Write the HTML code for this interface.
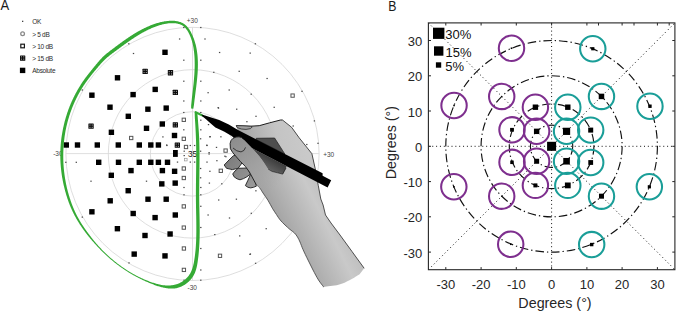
<!DOCTYPE html>
<html><head><meta charset="utf-8"><style>
html,body{margin:0;padding:0;background:#fff;}
svg{display:block;font-family:"Liberation Sans",sans-serif;}
</style></head><body>
<svg width="676" height="312" viewBox="0 0 676 312">
<rect width="676" height="312" fill="#fff"/>
<text transform="translate(0.5,10.4) scale(0.88,1)" font-size="14.8" fill="#1a1a1a">A</text>
<g font-size="6.5" fill="#2a2a2a" letter-spacing="-0.3">
<text x="32.3" y="24.0">OK</text>
<text x="32.3" y="36.5">&gt; 5 dB</text>
<text x="32.3" y="49.0">&gt; 10 dB</text>
<text x="32.3" y="61.0">&gt; 15 dB</text>
<text x="32.3" y="73.4">Absolute</text>
</g>
<rect x="22.0" y="20.7" width="1.3" height="1.3" fill="#444"/>
<circle cx="22.6" cy="33.7" r="1.85" fill="none" stroke="#8a8a8a" stroke-width="1.3"/>
<g fill="none" stroke="#d6d6d6" stroke-width="0.8">
<circle cx="192.5" cy="153.9" r="42.2"/>
<circle cx="192.5" cy="153.9" r="84.2"/>
<circle cx="192.5" cy="153.9" r="126.6"/>
<line x1="192.5" y1="27.3" x2="192.5" y2="280.5"/>
<line x1="65.9" y1="153.6" x2="319.1" y2="153.6"/>
</g>
<g font-size="6.5" fill="#444">
<text x="192.3" y="23.1" text-anchor="middle">+30</text>
<text x="192.3" y="289.6" text-anchor="middle">-30</text>
<text x="62.6" y="155.9" text-anchor="end">-30</text>
<text x="323.2" y="156.6">+30</text>
</g>
<text x="188" y="156.8" font-size="8.3" fill="#111">35</text>
<g fill="#474747">
<rect x="200.13" y="26.90" width="1.35" height="1.2"/>
<rect x="183.13" y="26.90" width="1.35" height="1.2"/>
<rect x="178.93" y="38.40" width="1.35" height="1.2"/>
<rect x="204.33" y="38.40" width="1.35" height="1.2"/>
<rect x="218.93" y="51.90" width="1.35" height="1.2"/>
<rect x="183.13" y="59.60" width="1.35" height="1.2"/>
<rect x="200.13" y="59.60" width="1.35" height="1.2"/>
<rect x="213.13" y="71.70" width="1.35" height="1.2"/>
<rect x="254.73" y="43.20" width="1.35" height="1.2"/>
<rect x="249.53" y="52.50" width="1.35" height="1.2"/>
<rect x="238.53" y="70.70" width="1.35" height="1.2"/>
<rect x="128.13" y="43.20" width="1.35" height="1.2"/>
<rect x="132.83" y="52.90" width="1.35" height="1.2"/>
<rect x="81.63" y="89.40" width="1.35" height="1.2"/>
<rect x="183.13" y="80.60" width="1.35" height="1.2"/>
<rect x="200.13" y="80.60" width="1.35" height="1.2"/>
<rect x="207.43" y="92.10" width="1.35" height="1.2"/>
<rect x="183.13" y="100.40" width="1.35" height="1.2"/>
<rect x="200.13" y="100.40" width="1.35" height="1.2"/>
<rect x="217.83" y="107.50" width="1.35" height="1.2"/>
<rect x="183.13" y="111.90" width="1.35" height="1.2"/>
<rect x="200.13" y="111.90" width="1.35" height="1.2"/>
<rect x="200.13" y="119.60" width="1.35" height="1.2"/>
<rect x="183.13" y="129.20" width="1.35" height="1.2"/>
<rect x="200.13" y="129.20" width="1.35" height="1.2"/>
<rect x="207.83" y="124.00" width="1.35" height="1.2"/>
<rect x="228.53" y="89.40" width="1.35" height="1.2"/>
<rect x="266.43" y="77.90" width="1.35" height="1.2"/>
<rect x="250.53" y="93.60" width="1.35" height="1.2"/>
<rect x="236.03" y="108.60" width="1.35" height="1.2"/>
<rect x="273.53" y="106.70" width="1.35" height="1.2"/>
<rect x="255.33" y="115.70" width="1.35" height="1.2"/>
<rect x="246.23" y="121.10" width="1.35" height="1.2"/>
<rect x="301.33" y="90.70" width="1.35" height="1.2"/>
<rect x="313.73" y="120.30" width="1.35" height="1.2"/>
<rect x="292.53" y="125.40" width="1.35" height="1.2"/>
<rect x="317.33" y="142.70" width="1.35" height="1.2"/>
<rect x="306.13" y="143.90" width="1.35" height="1.2"/>
<rect x="166.23" y="144.90" width="1.35" height="1.2"/>
<rect x="189.63" y="144.90" width="1.35" height="1.2"/>
<rect x="193.93" y="144.90" width="1.35" height="1.2"/>
<rect x="176.83" y="161.50" width="1.35" height="1.2"/>
<rect x="189.63" y="161.50" width="1.35" height="1.2"/>
<rect x="193.93" y="161.50" width="1.35" height="1.2"/>
<rect x="183.53" y="150.60" width="1.35" height="1.2"/>
<rect x="183.53" y="155.00" width="1.35" height="1.2"/>
<rect x="199.93" y="138.20" width="1.35" height="1.2"/>
<rect x="199.93" y="150.60" width="1.35" height="1.2"/>
<rect x="199.93" y="167.90" width="1.35" height="1.2"/>
<rect x="199.93" y="177.20" width="1.35" height="1.2"/>
<rect x="206.33" y="144.90" width="1.35" height="1.2"/>
<rect x="206.33" y="161.50" width="1.35" height="1.2"/>
<rect x="209.53" y="136.10" width="1.35" height="1.2"/>
<rect x="208.43" y="153.40" width="1.35" height="1.2"/>
<rect x="209.23" y="170.70" width="1.35" height="1.2"/>
<rect x="162.23" y="136.30" width="1.35" height="1.2"/>
<rect x="166.03" y="144.40" width="1.35" height="1.2"/>
<rect x="145.83" y="180.60" width="1.35" height="1.2"/>
<rect x="65.13" y="161.70" width="1.35" height="1.2"/>
<rect x="75.63" y="161.70" width="1.35" height="1.2"/>
<rect x="90.33" y="180.60" width="1.35" height="1.2"/>
<rect x="183.33" y="186.90" width="1.35" height="1.2"/>
<rect x="183.33" y="194.20" width="1.35" height="1.2"/>
<rect x="200.13" y="186.90" width="1.35" height="1.2"/>
<rect x="200.13" y="194.20" width="1.35" height="1.2"/>
<rect x="200.13" y="205.70" width="1.35" height="1.2"/>
<rect x="200.13" y="226.90" width="1.35" height="1.2"/>
<rect x="208.73" y="182.50" width="1.35" height="1.2"/>
<rect x="218.03" y="199.40" width="1.35" height="1.2"/>
<rect x="207.43" y="214.40" width="1.35" height="1.2"/>
<rect x="214.13" y="234.00" width="1.35" height="1.2"/>
<rect x="221.13" y="183.20" width="1.35" height="1.2"/>
<rect x="235.73" y="198.60" width="1.35" height="1.2"/>
<rect x="255.23" y="190.20" width="1.35" height="1.2"/>
<rect x="228.83" y="217.40" width="1.35" height="1.2"/>
<rect x="250.63" y="212.70" width="1.35" height="1.2"/>
<rect x="239.03" y="235.30" width="1.35" height="1.2"/>
<rect x="265.53" y="228.10" width="1.35" height="1.2"/>
<rect x="249.33" y="253.80" width="1.35" height="1.2"/>
<rect x="81.63" y="216.50" width="1.35" height="1.2"/>
<rect x="128.33" y="262.30" width="1.35" height="1.2"/>
<rect x="200.13" y="247.90" width="1.35" height="1.2"/>
<rect x="200.13" y="269.40" width="1.35" height="1.2"/>
<rect x="183.43" y="279.60" width="1.35" height="1.2"/>
<rect x="200.13" y="279.60" width="1.35" height="1.2"/>
<rect x="249.73" y="253.40" width="1.35" height="1.2"/>
<rect x="254.93" y="262.70" width="1.35" height="1.2"/>
<rect x="217.53" y="107.00" width="1.35" height="1.2"/>
<rect x="209.13" y="136.20" width="1.35" height="1.2"/>
<rect x="220.23" y="136.20" width="1.35" height="1.2"/>
<rect x="206.13" y="144.60" width="1.35" height="1.2"/>
<rect x="215.83" y="146.80" width="1.35" height="1.2"/>
<rect x="208.43" y="152.00" width="1.35" height="1.2"/>
<rect x="224.23" y="155.60" width="1.35" height="1.2"/>
<rect x="216.23" y="160.10" width="1.35" height="1.2"/>
<rect x="225.23" y="156.10" width="1.35" height="1.2"/>
</g>
<rect x="173" y="150" width="4.8" height="6.9" fill="#000"/>
<g fill="#000">
<rect x="162.3" y="49.6" width="5.4" height="5.4"/>
<rect x="114.8" y="75.1" width="5.4" height="5.4"/>
<rect x="152.5" y="86.7" width="5.4" height="5.4"/>
<rect x="130.4" y="91.9" width="5.4" height="5.4"/>
<rect x="89.2" y="92.5" width="5.4" height="5.4"/>
<rect x="107.3" y="104.5" width="5.4" height="5.4"/>
<rect x="145.2" y="106.5" width="5.4" height="5.4"/>
<rect x="163.5" y="105.4" width="5.4" height="5.4"/>
<rect x="125.6" y="113.6" width="5.4" height="5.4"/>
<rect x="159.6" y="121.3" width="5.4" height="5.4"/>
<rect x="143.8" y="125.6" width="5.4" height="5.4"/>
<rect x="108.7" y="129.6" width="5.4" height="5.4"/>
<rect x="171.8" y="132.8" width="5.4" height="5.4"/>
<rect x="63.6" y="142.3" width="5.4" height="5.4"/>
<rect x="74.8" y="142.3" width="5.4" height="5.4"/>
<rect x="94.6" y="142.3" width="5.4" height="5.4"/>
<rect x="115.6" y="142.3" width="5.4" height="5.4"/>
<rect x="136.6" y="142.3" width="5.4" height="5.4"/>
<rect x="148.1" y="142.3" width="5.4" height="5.4"/>
<rect x="155.7" y="142.3" width="5.4" height="5.4"/>
<rect x="96.0" y="159.6" width="5.4" height="5.4"/>
<rect x="115.8" y="159.6" width="5.4" height="5.4"/>
<rect x="136.6" y="159.6" width="5.4" height="5.4"/>
<rect x="148.1" y="159.6" width="5.4" height="5.4"/>
<rect x="155.7" y="159.6" width="5.4" height="5.4"/>
<rect x="164.8" y="159.6" width="5.4" height="5.4"/>
<rect x="128.3" y="167.9" width="5.4" height="5.4"/>
<rect x="159.7" y="167.9" width="5.4" height="5.4"/>
<rect x="171.9" y="168.6" width="5.4" height="5.4"/>
<rect x="108.6" y="172.6" width="5.4" height="5.4"/>
<rect x="159.1" y="181.2" width="5.4" height="5.4"/>
<rect x="172.5" y="180.4" width="5.4" height="5.4"/>
<rect x="125.5" y="188.0" width="5.4" height="5.4"/>
<rect x="163.5" y="196.5" width="5.4" height="5.4"/>
<rect x="107.5" y="198.1" width="5.4" height="5.4"/>
<rect x="145.3" y="196.5" width="5.4" height="5.4"/>
<rect x="89.2" y="209.1" width="5.4" height="5.4"/>
<rect x="130.5" y="210.8" width="5.4" height="5.4"/>
<rect x="172.6" y="212.3" width="5.4" height="5.4"/>
<rect x="152.4" y="214.9" width="5.4" height="5.4"/>
<rect x="114.7" y="226.0" width="5.4" height="5.4"/>
<rect x="142.3" y="232.8" width="5.4" height="5.4"/>
<rect x="167.4" y="231.3" width="5.4" height="5.4"/>
<rect x="131.5" y="251.4" width="5.4" height="5.4"/>
<rect x="162.3" y="253.2" width="5.4" height="5.4"/>
</g>
<rect x="142.5" y="68.8" width="5.3" height="5.3" fill="#0a0a0a" rx="0.5"/>
<rect x="143.50" y="69.70" width="1.1" height="1.1" fill="#9a9a9a"/>
<rect x="145.80" y="69.70" width="1.1" height="1.1" fill="#9a9a9a"/>
<rect x="143.50" y="72.00" width="1.1" height="1.1" fill="#9a9a9a"/>
<rect x="145.80" y="72.00" width="1.1" height="1.1" fill="#9a9a9a"/>
<rect x="167.8" y="70.1" width="5.3" height="5.3" fill="#0a0a0a" rx="0.5"/>
<rect x="168.70" y="71.10" width="1.1" height="1.1" fill="#9a9a9a"/>
<rect x="171.00" y="71.10" width="1.1" height="1.1" fill="#9a9a9a"/>
<rect x="168.70" y="73.40" width="1.1" height="1.1" fill="#9a9a9a"/>
<rect x="171.00" y="73.40" width="1.1" height="1.1" fill="#9a9a9a"/>
<rect x="88.4" y="123.5" width="5.3" height="5.3" fill="#0a0a0a" rx="0.5"/>
<rect x="89.40" y="124.50" width="1.1" height="1.1" fill="#9a9a9a"/>
<rect x="91.70" y="124.50" width="1.1" height="1.1" fill="#9a9a9a"/>
<rect x="89.40" y="126.80" width="1.1" height="1.1" fill="#9a9a9a"/>
<rect x="91.70" y="126.80" width="1.1" height="1.1" fill="#9a9a9a"/>
<rect x="172.7" y="89.8" width="5.3" height="5.3" fill="#0a0a0a" rx="0.5"/>
<rect x="173.60" y="90.80" width="1.1" height="1.1" fill="#9a9a9a"/>
<rect x="175.90" y="90.80" width="1.1" height="1.1" fill="#9a9a9a"/>
<rect x="173.60" y="93.10" width="1.1" height="1.1" fill="#9a9a9a"/>
<rect x="175.90" y="93.10" width="1.1" height="1.1" fill="#9a9a9a"/>
<rect x="172.7" y="122.2" width="5.3" height="5.3" fill="#0a0a0a" rx="0.5"/>
<rect x="173.60" y="123.20" width="1.1" height="1.1" fill="#9a9a9a"/>
<rect x="175.90" y="123.20" width="1.1" height="1.1" fill="#9a9a9a"/>
<rect x="173.60" y="125.50" width="1.1" height="1.1" fill="#9a9a9a"/>
<rect x="175.90" y="125.50" width="1.1" height="1.1" fill="#9a9a9a"/>
<rect x="174.7" y="142.5" width="5.3" height="5.3" fill="#0a0a0a" rx="0.5"/>
<rect x="175.60" y="143.50" width="1.1" height="1.1" fill="#9a9a9a"/>
<rect x="177.90" y="143.50" width="1.1" height="1.1" fill="#9a9a9a"/>
<rect x="175.60" y="145.80" width="1.1" height="1.1" fill="#9a9a9a"/>
<rect x="177.90" y="145.80" width="1.1" height="1.1" fill="#9a9a9a"/>
<g fill="none" stroke="#555" stroke-width="1">
<rect x="129.55" y="136.35" width="3.3" height="3.3"/>
<rect x="182.15" y="118.15" width="3.3" height="3.3"/>
<rect x="182.15" y="137.15" width="3.3" height="3.3"/>
<rect x="184.35" y="145.35" width="3.3" height="3.3"/>
<rect x="223.95" y="148.95" width="3.3" height="3.3"/>
<rect x="182.15" y="166.85" width="3.3" height="3.3"/>
<rect x="182.15" y="176.35" width="3.3" height="3.3"/>
<rect x="219.15" y="169.15" width="3.3" height="3.3"/>
<rect x="182.15" y="204.75" width="3.3" height="3.3"/>
<rect x="182.15" y="225.95" width="3.3" height="3.3"/>
<rect x="182.25" y="246.85" width="3.3" height="3.3"/>
<rect x="182.25" y="268.25" width="3.3" height="3.3"/>
<rect x="218.35" y="254.15" width="3.3" height="3.3"/>
<rect x="290.95" y="93.95" width="3.3" height="3.3"/>
</g>
<rect x="184.5" y="158.3" width="2.6" height="2.6" fill="none" stroke="#999" stroke-width="0.7"/>
<rect x="20.80" y="44.20" width="3.6" height="3.6" fill="none" stroke="#1a1a1a" stroke-width="1.2"/>
<rect x="20.0" y="55.4" width="5.3" height="5.3" fill="#0a0a0a" rx="0.5"/>
<rect x="20.90" y="56.30" width="1.1" height="1.1" fill="#9a9a9a"/>
<rect x="23.20" y="56.30" width="1.1" height="1.1" fill="#9a9a9a"/>
<rect x="20.90" y="58.60" width="1.1" height="1.1" fill="#9a9a9a"/>
<rect x="23.20" y="58.60" width="1.1" height="1.1" fill="#9a9a9a"/>
<rect x="19.9" y="67.7" width="5.4" height="5.4" fill="#000"/>
<path d="M193.32,108.70 L193.44,107.99 L193.57,107.28 L193.69,106.56 L193.82,105.85 L193.92,105.14 L194.00,104.42 L194.09,103.70 L194.17,102.98 L194.26,102.26 L194.35,101.53 L194.44,100.81 L194.53,100.09 L194.62,99.36 L194.71,98.64 L194.81,97.91 L194.90,97.18 L195.00,96.46 L195.09,95.73 L195.18,95.00 L195.28,94.27 L195.37,93.54 L195.46,92.81 L195.56,92.08 L195.65,91.34 L195.74,90.61 L195.83,89.88 L195.93,89.14 L196.02,88.41 L196.11,87.67 L196.20,86.94 L196.29,86.20 L196.37,85.47 L196.46,84.73 L196.55,83.99 L196.64,83.26 L196.73,82.52 L196.81,81.78 L196.90,81.04 L196.97,80.30 L197.05,79.56 L197.12,78.83 L197.19,78.09 L197.26,77.34 L197.32,76.60 L197.38,75.86 L197.44,75.12 L197.50,74.38 L197.55,73.64 L197.61,72.90 L197.65,72.16 L197.70,71.42 L197.74,70.67 L197.77,69.93 L197.80,69.19 L197.83,68.45 L197.85,67.70 L197.87,66.96 L197.88,66.22 L197.89,65.48 L197.90,64.74 L197.90,63.99 L197.89,63.25 L197.89,62.51 L197.87,61.77 L197.85,61.03 L197.82,60.29 L197.78,59.55 L197.74,58.80 L197.70,58.06 L197.65,57.32 L197.59,56.58 L197.53,55.85 L197.46,55.11 L197.39,54.37 L197.30,53.63 L197.21,52.89 L197.12,52.16 L197.02,51.42 L196.91,50.69 L196.79,49.95 L196.66,49.22 L196.52,48.49 L196.37,47.75 L196.22,47.02 L196.06,46.29 L195.89,45.57 L195.71,44.84 L195.52,44.11 L195.32,43.39 L195.11,42.67 L194.90,41.95 L194.68,41.23 L194.45,40.51 L194.21,39.79 L193.96,39.08 L193.70,38.36 L193.43,37.65 L193.15,36.94 L192.85,36.24 L192.55,35.53 L192.23,34.83 L191.90,34.14 L191.56,33.44 L191.21,32.75 L190.85,32.06 L190.47,31.37 L190.07,30.70 L189.66,30.03 L189.24,29.37 L188.79,28.73 L188.33,28.10 L187.85,27.48 L187.36,26.89 L186.84,26.31 L186.30,25.76 L185.74,25.23 L185.16,24.73 L184.55,24.26 L183.92,23.82 L183.27,23.41 L182.60,23.04 L181.92,22.70 L181.22,22.40 L180.51,22.12 L179.79,21.88 L179.06,21.66 L178.32,21.47 L177.57,21.30 L176.81,21.16 L176.05,21.04 L175.29,20.95 L174.52,20.87 L173.75,20.81 L172.98,20.78 L172.21,20.76 L171.44,20.75 L170.67,20.76 L169.91,20.79 L169.14,20.83 L168.38,20.89 L167.62,20.96 L166.86,21.04 L166.10,21.13 L165.35,21.24 L164.59,21.36 L163.84,21.49 L163.09,21.63 L162.34,21.78 L161.60,21.94 L160.86,22.11 L160.12,22.29 L159.38,22.47 L158.64,22.67 L157.91,22.88 L157.19,23.09 L156.46,23.31 L155.74,23.54 L155.02,23.77 L154.31,24.02 L153.60,24.27 L152.90,24.53 L152.20,24.79 L151.50,25.06 L150.81,25.33 L150.11,25.61 L149.42,25.90 L148.74,26.19 L148.06,26.49 L147.38,26.79 L146.70,27.10 L146.02,27.41 L145.35,27.72 L144.68,28.04 L144.02,28.37 L143.35,28.70 L142.69,29.03 L142.03,29.37 L141.37,29.71 L140.72,30.06 L140.07,30.41 L139.42,30.76 L138.77,31.12 L138.13,31.48 L137.48,31.85 L136.84,32.22 L136.20,32.59 L135.57,32.96 L134.93,33.34 L134.30,33.73 L133.67,34.11 L133.04,34.50 L132.41,34.89 L131.79,35.29 L131.17,35.69 L130.55,36.09 L129.93,36.50 L129.31,36.91 L128.69,37.32 L128.08,37.73 L127.47,38.15 L126.86,38.56 L126.25,38.98 L125.64,39.40 L125.03,39.83 L124.43,40.25 L123.82,40.68 L123.22,41.11 L122.61,41.53 L122.01,41.97 L121.41,42.40 L120.82,42.84 L120.22,43.28 L119.63,43.72 L119.03,44.16 L118.44,44.60 L117.84,45.04 L117.25,45.48 L116.66,45.93 L116.07,46.37 L115.47,46.81 L114.88,47.26 L114.29,47.70 L113.70,48.15 L113.11,48.59 L112.52,49.03 L111.93,49.48 L111.34,49.92 L110.74,50.37 L110.15,50.82 L109.56,51.27 L108.97,51.73 L108.38,52.18 L107.79,52.65 L107.21,53.11 L106.63,53.59 L106.05,54.06 L105.48,54.55 L104.91,55.04 L104.35,55.53 L103.79,56.04 L103.24,56.55 L102.70,57.07 L102.16,57.60 L101.64,58.14 L101.12,58.68 L100.62,59.23 L100.11,59.78 L99.62,60.33 L99.13,60.89 L98.65,61.45 L98.17,62.01 L97.69,62.58 L97.22,63.14 L96.75,63.71 L96.28,64.28 L95.82,64.85 L95.35,65.42 L94.88,65.98 L94.42,66.55 L93.95,67.12 L93.48,67.69 L93.02,68.27 L92.55,68.84 L92.08,69.42 L91.62,69.99 L91.15,70.57 L90.68,71.15 L90.21,71.72 L89.75,72.30 L89.28,72.89 L88.82,73.47 L88.36,74.05 L87.90,74.64 L87.44,75.23 L86.98,75.82 L86.53,76.41 L86.08,77.01 L85.63,77.61 L85.18,78.21 L84.74,78.81 L84.30,79.42 L83.87,80.03 L83.45,80.64 L83.02,81.26 L82.60,81.87 L82.19,82.49 L81.78,83.12 L81.37,83.74 L80.96,84.37 L80.56,85.00 L80.17,85.63 L79.78,86.26 L79.39,86.90 L79.00,87.53 L78.62,88.17 L78.24,88.81 L77.86,89.45 L77.49,90.09 L77.12,90.74 L76.76,91.39 L76.40,92.04 L76.04,92.69 L75.69,93.34 L75.34,94.00 L75.00,94.66 L74.66,95.32 L74.32,95.98 L73.99,96.64 L73.66,97.31 L73.34,97.97 L73.02,98.64 L72.70,99.31 L72.39,99.99 L72.08,100.66 L71.77,101.33 L71.47,102.01 L71.17,102.69 L70.88,103.37 L70.59,104.05 L70.31,104.74 L70.03,105.42 L69.75,106.11 L69.48,106.80 L69.21,107.49 L68.94,108.18 L68.68,108.87 L68.42,109.57 L68.17,110.27 L67.92,110.96 L67.68,111.66 L67.43,112.36 L67.20,113.06 L66.96,113.77 L66.73,114.47 L66.51,115.18 L66.29,115.88 L66.07,116.59 L65.86,117.30 L65.65,118.01 L65.44,118.72 L65.24,119.44 L65.04,120.15 L64.85,120.87 L64.66,121.58 L64.48,122.30 L64.29,123.02 L64.12,123.74 L63.94,124.46 L63.77,125.18 L63.61,125.90 L63.45,126.63 L63.29,127.35 L63.14,128.08 L62.99,128.80 L62.84,129.53 L62.70,130.26 L62.56,130.98 L62.42,131.71 L62.29,132.44 L62.17,133.18 L62.04,133.91 L61.92,134.64 L61.81,135.37 L61.70,136.11 L61.59,136.84 L61.48,137.58 L61.39,138.31 L61.29,139.05 L61.20,139.79 L61.11,140.52 L61.03,141.26 L60.95,142.00 L60.87,142.74 L60.81,143.48 L60.74,144.22 L60.68,144.96 L60.63,145.70 L60.58,146.45 L60.53,147.19 L60.48,147.93 L60.44,148.68 L60.41,149.42 L60.38,150.16 L60.35,150.91 L60.33,151.65 L60.31,152.40 L60.29,153.14 L60.29,153.88 L60.28,154.63 L60.29,155.38 L60.29,156.12 L60.30,156.87 L60.32,157.61 L60.33,158.36 L60.35,159.10 L60.38,159.85 L60.41,160.59 L60.44,161.34 L60.48,162.08 L60.52,162.83 L60.57,163.57 L60.62,164.31 L60.68,165.06 L60.73,165.80 L60.80,166.54 L60.86,167.29 L60.93,168.03 L61.01,168.77 L61.08,169.51 L61.17,170.25 L61.25,170.99 L61.34,171.73 L61.44,172.47 L61.53,173.21 L61.64,173.95 L61.74,174.69 L61.85,175.42 L61.96,176.16 L62.08,176.90 L62.20,177.63 L62.33,178.36 L62.46,179.10 L62.59,179.83 L62.73,180.56 L62.88,181.29 L63.02,182.02 L63.17,182.75 L63.33,183.47 L63.48,184.20 L63.65,184.92 L63.81,185.65 L63.98,186.37 L64.15,187.09 L64.33,187.81 L64.51,188.53 L64.69,189.25 L64.88,189.97 L65.07,190.68 L65.26,191.40 L65.46,192.11 L65.66,192.83 L65.86,193.54 L66.07,194.25 L66.28,194.96 L66.50,195.66 L66.71,196.37 L66.94,197.07 L67.16,197.77 L67.39,198.47 L67.63,199.17 L67.87,199.87 L68.11,200.56 L68.36,201.26 L68.61,201.95 L68.87,202.64 L69.13,203.33 L69.39,204.02 L69.66,204.70 L69.93,205.39 L70.20,206.07 L70.48,206.75 L70.77,207.43 L71.06,208.11 L71.35,208.78 L71.65,209.45 L71.96,210.12 L72.27,210.79 L72.58,211.46 L72.90,212.12 L73.22,212.79 L73.55,213.45 L73.89,214.11 L74.22,214.76 L74.57,215.42 L74.91,216.07 L75.27,216.72 L75.62,217.37 L75.98,218.02 L76.35,218.67 L76.72,219.31 L77.09,219.95 L77.47,220.59 L77.85,221.23 L78.24,221.86 L78.63,222.49 L79.03,223.12 L79.42,223.75 L79.83,224.38 L80.23,225.00 L80.65,225.62 L81.06,226.24 L81.48,226.86 L81.90,227.47 L82.32,228.08 L82.75,228.69 L83.18,229.30 L83.62,229.91 L84.05,230.51 L84.49,231.11 L84.94,231.71 L85.38,232.31 L85.83,232.90 L86.28,233.50 L86.74,234.09 L87.19,234.67 L87.65,235.26 L88.11,235.84 L88.58,236.42 L89.05,236.99 L89.52,237.57 L89.99,238.14 L90.47,238.71 L90.95,239.27 L91.43,239.84 L91.91,240.40 L92.39,240.96 L92.88,241.52 L93.37,242.07 L93.86,242.62 L94.35,243.17 L94.85,243.72 L95.35,244.27 L95.84,244.81 L96.34,245.36 L96.84,245.90 L97.34,246.44 L97.84,246.98 L98.34,247.52 L98.85,248.05 L99.36,248.59 L99.87,249.11 L100.38,249.64 L100.90,250.17 L101.42,250.69 L101.94,251.21 L102.46,251.72 L102.98,252.24 L103.51,252.75 L104.04,253.26 L104.57,253.76 L105.10,254.27 L105.64,254.77 L106.18,255.27 L106.72,255.76 L107.26,256.26 L107.80,256.75 L108.35,257.23 L108.90,257.72 L109.45,258.20 L110.01,258.68 L110.56,259.16 L111.12,259.63 L111.68,260.10 L112.24,260.57 L112.80,261.04 L113.37,261.50 L113.94,261.97 L114.51,262.42 L115.08,262.88 L115.65,263.33 L116.23,263.78 L116.81,264.23 L117.39,264.67 L117.98,265.12 L118.56,265.55 L119.15,265.99 L119.74,266.42 L120.34,266.85 L120.93,267.28 L121.53,267.70 L122.13,268.12 L122.73,268.54 L123.34,268.95 L123.95,269.36 L124.55,269.77 L125.17,270.17 L125.78,270.57 L126.40,270.97 L127.02,271.37 L127.64,271.76 L128.26,272.14 L128.89,272.53 L129.52,272.91 L130.15,273.29 L130.78,273.67 L131.41,274.04 L132.05,274.42 L132.69,274.78 L133.33,275.15 L133.97,275.51 L134.62,275.87 L135.27,276.22 L135.92,276.57 L136.57,276.92 L137.23,277.26 L137.89,277.60 L138.55,277.94 L139.21,278.27 L139.87,278.60 L140.54,278.94 L141.21,279.26 L141.88,279.59 L142.55,279.91 L143.22,280.23 L143.90,280.54 L144.58,280.86 L145.26,281.16 L145.95,281.47 L146.63,281.77 L147.32,282.06 L148.02,282.36 L148.71,282.65 L149.41,282.93 L150.11,283.21 L150.81,283.50 L151.51,283.79 L152.21,284.07 L152.92,284.35 L153.63,284.62 L154.34,284.89 L155.05,285.15 L155.76,285.41 L156.48,285.65 L157.20,285.89 L157.92,286.13 L158.65,286.35 L159.37,286.56 L160.10,286.77 L160.83,286.96 L161.55,287.16 L162.28,287.35 L163.01,287.53 L163.75,287.70 L164.48,287.85 L165.21,287.99 L165.95,288.12 L166.69,288.23 L167.43,288.33 L168.17,288.41 L168.92,288.48 L169.66,288.54 L170.41,288.57 L171.16,288.59 L171.90,288.59 L172.65,288.58 L173.40,288.54 L174.16,288.48 L174.91,288.41 L175.66,288.29 L176.40,288.14 L177.15,287.97 L177.89,287.78 L178.63,287.56 L179.36,287.32 L180.10,287.05 L180.83,286.76 L181.55,286.45 L182.27,286.10 L182.98,285.73 L183.69,285.34 L184.38,284.92 L185.07,284.49 L185.74,284.03 L186.41,283.55 L187.06,283.05 L187.69,282.54 L188.31,282.00 L188.92,281.44 L189.50,280.87 L190.07,280.28 L190.62,279.67 L191.15,279.05 L191.66,278.41 L192.14,277.76 L192.60,277.10 L193.03,276.42 L193.44,275.74 L193.83,275.04 L194.19,274.34 L194.53,273.64 L194.84,272.92 L195.14,272.21 L195.42,271.48 L195.68,270.75 L195.92,270.02 L196.14,269.28 L196.35,268.54 L196.54,267.80 L196.72,267.06 L196.89,266.31 L197.04,265.56 L197.18,264.82 L197.32,264.07 L197.45,263.32 L197.56,262.57 L197.68,261.83 L197.78,261.08 L197.88,260.34 L197.98,259.60 L198.08,258.86 L198.17,258.11 L198.26,257.37 L198.35,256.63 L198.43,255.89 L198.51,255.15 L198.59,254.41 L198.66,253.67 L198.73,252.93 L198.80,252.19 L198.86,251.45 L198.92,250.71 L198.98,249.97 L199.03,249.23 L199.08,248.49 L199.13,247.75 L199.18,247.01 L199.23,246.27 L199.27,245.53 L199.32,244.79 L199.36,244.05 L199.39,243.31 L199.43,242.57 L199.46,241.84 L199.49,241.10 L199.52,240.36 L199.54,239.62 L199.57,238.88 L199.59,238.14 L199.61,237.40 L199.62,236.67 L199.64,235.93 L199.65,235.19 L199.66,234.45 L199.67,233.71 L199.68,232.98 L199.69,232.24 L199.69,231.50 L199.69,230.76 L199.69,230.02 L199.70,229.29 L199.69,228.55 L199.69,227.81 L199.69,227.08 L199.68,226.34 L199.68,225.60 L199.67,224.87 L199.66,224.13 L199.65,223.39 L199.64,222.66 L199.63,221.92 L199.62,221.18 L199.61,220.45 L199.60,219.71 L199.58,218.97 L199.57,218.24 L199.56,217.50 L199.54,216.77 L199.53,216.03 L199.51,215.30 L199.50,214.56 L199.48,213.82 L199.46,213.09 L199.45,212.35 L199.43,211.62 L199.42,210.88 L199.40,210.15 L199.39,209.42 L199.37,208.68 L199.36,207.95 L199.34,207.21 L199.33,206.48 L199.31,205.74 L199.30,205.01 L199.29,204.28 L199.27,203.54 L199.26,202.81 L199.25,202.08 L199.24,201.34 L199.23,200.61 L199.23,199.88 L199.22,199.14 L199.21,198.41 L199.21,197.68 L199.21,196.94 L199.20,196.21 L199.20,195.48 L199.20,194.74 L199.20,194.01 L199.20,193.28 L199.20,192.54 L199.20,191.81 L199.21,191.08 L199.21,190.34 L199.21,189.61 L199.22,188.87 L199.22,188.14 L199.23,187.41 L199.23,186.67 L199.24,185.94 L199.25,185.20 L199.25,184.47 L199.26,183.73 L199.27,183.00 L199.28,182.27 L199.28,181.53 L199.29,180.80 L199.30,180.06 L199.31,179.33 L199.32,178.59 L199.33,177.86 L199.34,177.12 L199.35,176.39 L199.36,175.65 L199.37,174.92 L199.38,174.18 L199.39,173.45 L199.39,172.71 L199.40,171.98 L199.41,171.24 L199.42,170.51 L199.43,169.77 L199.44,169.04 L199.45,168.30 L199.45,167.57 L199.46,166.83 L199.47,166.09 L199.48,165.36 L199.48,164.62 L199.49,163.89 L199.49,163.15 L199.50,162.42 L199.50,161.68 L199.51,160.94 L199.51,160.21 L199.51,159.47 L199.51,158.74 L199.51,158.00 L199.51,157.26 L199.51,156.53 L199.51,155.79 L199.51,155.05 L199.50,154.32 L199.50,153.58 L199.49,152.84 L199.49,152.11 L199.48,151.37 L199.47,150.64 L199.46,149.90 L199.45,149.16 L199.44,148.43 L199.43,147.69 L199.41,146.95 L199.40,146.21 L199.38,145.48 L199.36,144.74 L199.35,144.00 L199.33,143.27 L199.31,142.53 L199.28,141.79 L199.26,141.06 L199.24,140.32 L199.21,139.58 L199.18,138.85 L199.15,138.11 L199.12,137.37 L199.09,136.63 L199.06,135.90 L199.02,135.16 L198.98,134.42 L198.93,133.69 L198.89,132.95 L198.84,132.21 L198.79,131.48 L198.74,130.74 L198.69,130.00 L198.64,129.27 L198.59,128.53 L198.53,127.80 L198.48,127.06 L198.42,126.33 L198.37,125.60 L198.31,124.86 L198.26,124.13 L198.20,123.39 L198.15,122.66 L198.09,121.93 L198.04,121.19 L197.98,120.46 L197.92,119.73 L197.87,119.00 L197.81,118.26 L197.76,117.53 L197.70,116.80 L197.63,116.07 L197.55,115.34 L197.48,114.61 L197.41,113.88 L197.33,113.15 L197.26,112.42 L194.67,112.59 L194.69,113.32 L194.71,114.06 L194.74,114.79 L194.76,115.53 L194.79,116.26 L194.81,117.00 L194.86,117.73 L194.90,118.47 L194.95,119.20 L195.00,119.93 L195.04,120.67 L195.09,121.40 L195.14,122.13 L195.18,122.87 L195.23,123.60 L195.27,124.33 L195.32,125.06 L195.36,125.80 L195.40,126.53 L195.44,127.26 L195.48,127.99 L195.52,128.73 L195.56,129.46 L195.60,130.19 L195.63,130.92 L195.67,131.65 L195.70,132.39 L195.73,133.12 L195.76,133.85 L195.79,134.58 L195.82,135.31 L195.85,136.04 L195.89,136.77 L195.91,137.50 L195.94,138.23 L195.97,138.96 L195.99,139.69 L196.02,140.42 L196.04,141.16 L196.06,141.89 L196.08,142.62 L196.09,143.35 L196.11,144.08 L196.13,144.81 L196.14,145.54 L196.15,146.28 L196.16,147.01 L196.18,147.74 L196.18,148.47 L196.19,149.20 L196.20,149.94 L196.21,150.67 L196.21,151.40 L196.22,152.13 L196.22,152.86 L196.22,153.60 L196.22,154.33 L196.23,155.06 L196.23,155.80 L196.22,156.53 L196.22,157.26 L196.22,157.99 L196.22,158.73 L196.21,159.46 L196.21,160.19 L196.21,160.93 L196.20,161.66 L196.20,162.39 L196.19,163.13 L196.19,163.86 L196.18,164.60 L196.18,165.33 L196.17,166.06 L196.16,166.80 L196.15,167.53 L196.15,168.27 L196.14,169.00 L196.13,169.73 L196.12,170.47 L196.11,171.20 L196.10,171.94 L196.09,172.67 L196.09,173.41 L196.08,174.14 L196.07,174.88 L196.06,175.61 L196.05,176.35 L196.04,177.08 L196.03,177.82 L196.02,178.55 L196.01,179.29 L196.00,180.02 L195.99,180.76 L195.99,181.49 L195.98,182.23 L195.97,182.97 L195.96,183.70 L195.95,184.44 L195.95,185.17 L195.94,185.91 L195.93,186.64 L195.93,187.38 L195.92,188.12 L195.92,188.85 L195.91,189.59 L195.91,190.33 L195.91,191.06 L195.90,191.80 L195.90,192.54 L195.90,193.27 L195.90,194.01 L195.90,194.75 L195.90,195.48 L195.90,196.22 L195.91,196.96 L195.91,197.69 L195.91,198.43 L195.92,199.17 L195.93,199.91 L195.93,200.64 L195.94,201.38 L195.95,202.12 L195.96,202.85 L195.97,203.59 L195.98,204.33 L195.99,205.06 L196.00,205.80 L196.01,206.54 L196.03,207.27 L196.04,208.01 L196.05,208.75 L196.07,209.48 L196.08,210.22 L196.09,210.95 L196.11,211.69 L196.12,212.42 L196.14,213.16 L196.15,213.89 L196.17,214.63 L196.18,215.36 L196.19,216.10 L196.21,216.83 L196.22,217.56 L196.23,218.30 L196.25,219.03 L196.26,219.77 L196.27,220.50 L196.28,221.23 L196.29,221.96 L196.30,222.70 L196.31,223.43 L196.31,224.16 L196.32,224.90 L196.32,225.63 L196.33,226.36 L196.33,227.09 L196.33,227.82 L196.33,228.55 L196.33,229.29 L196.33,230.02 L196.33,230.75 L196.32,231.48 L196.32,232.21 L196.31,232.94 L196.30,233.67 L196.29,234.40 L196.28,235.13 L196.26,235.86 L196.25,236.59 L196.23,237.32 L196.21,238.05 L196.19,238.78 L196.16,239.51 L196.14,240.23 L196.11,240.96 L196.08,241.69 L196.04,242.42 L196.01,243.15 L195.97,243.87 L195.93,244.60 L195.89,245.33 L195.84,246.05 L195.79,246.78 L195.74,247.51 L195.68,248.23 L195.62,248.96 L195.56,249.68 L195.49,250.41 L195.42,251.13 L195.35,251.86 L195.27,252.58 L195.19,253.31 L195.11,254.03 L195.02,254.76 L194.93,255.48 L194.84,256.20 L194.74,256.92 L194.64,257.65 L194.54,258.37 L194.43,259.09 L194.32,259.81 L194.20,260.53 L194.08,261.25 L193.95,261.96 L193.81,262.67 L193.67,263.38 L193.52,264.08 L193.37,264.77 L193.20,265.46 L193.03,266.15 L192.84,266.82 L192.65,267.49 L192.44,268.15 L192.22,268.81 L192.00,269.46 L191.76,270.10 L191.50,270.73 L191.24,271.35 L190.95,271.96 L190.66,272.56 L190.34,273.15 L190.01,273.74 L189.66,274.31 L189.29,274.87 L188.90,275.42 L188.49,275.97 L188.06,276.50 L187.61,277.03 L187.15,277.54 L186.66,278.05 L186.16,278.54 L185.64,279.02 L185.11,279.48 L184.57,279.94 L184.01,280.37 L183.45,280.79 L182.87,281.20 L182.29,281.58 L181.70,281.95 L181.10,282.29 L180.50,282.62 L179.89,282.92 L179.29,283.21 L178.68,283.47 L178.06,283.72 L177.44,283.94 L176.82,284.15 L176.19,284.34 L175.56,284.50 L174.92,284.65 L174.28,284.80 L173.64,284.95 L172.99,285.07 L172.34,285.18 L171.68,285.28 L171.02,285.36 L170.35,285.42 L169.68,285.46 L169.00,285.49 L168.31,285.51 L167.63,285.51 L166.94,285.50 L166.24,285.47 L165.54,285.43 L164.84,285.37 L164.14,285.30 L163.43,285.22 L162.72,285.13 L162.01,285.02 L161.29,284.91 L160.58,284.77 L159.87,284.62 L159.15,284.46 L158.44,284.28 L157.73,284.10 L157.01,283.92 L156.30,283.72 L155.58,283.52 L154.87,283.30 L154.16,283.09 L153.44,282.86 L152.73,282.63 L152.02,282.40 L151.31,282.16 L150.61,281.91 L149.91,281.65 L149.21,281.39 L148.52,281.12 L147.82,280.85 L147.13,280.57 L146.45,280.29 L145.76,280.01 L145.08,279.72 L144.40,279.43 L143.72,279.14 L143.04,278.84 L142.37,278.54 L141.69,278.24 L141.02,277.93 L140.36,277.61 L139.69,277.29 L139.03,276.97 L138.38,276.64 L137.72,276.31 L137.07,275.97 L136.42,275.63 L135.77,275.29 L135.12,274.94 L134.48,274.59 L133.84,274.24 L133.20,273.89 L132.56,273.53 L131.92,273.16 L131.29,272.80 L130.66,272.43 L130.03,272.06 L129.41,271.68 L128.79,271.29 L128.17,270.91 L127.55,270.52 L126.94,270.13 L126.33,269.73 L125.72,269.34 L125.11,268.93 L124.50,268.53 L123.90,268.12 L123.30,267.71 L122.70,267.30 L122.10,266.88 L121.51,266.46 L120.92,266.04 L120.33,265.61 L119.74,265.18 L119.16,264.75 L118.58,264.32 L118.00,263.88 L117.42,263.44 L116.84,262.99 L116.27,262.55 L115.70,262.10 L115.13,261.64 L114.57,261.19 L114.00,260.73 L113.44,260.27 L112.88,259.80 L112.32,259.34 L111.77,258.87 L111.22,258.39 L110.67,257.91 L110.12,257.43 L109.58,256.95 L109.04,256.46 L108.50,255.97 L107.96,255.48 L107.43,254.99 L106.90,254.49 L106.37,253.99 L105.84,253.49 L105.31,252.99 L104.79,252.48 L104.27,251.97 L103.75,251.46 L103.24,250.94 L102.72,250.42 L102.21,249.90 L101.70,249.38 L101.20,248.85 L100.69,248.33 L100.19,247.80 L99.69,247.26 L99.19,246.73 L98.70,246.19 L98.20,245.65 L97.71,245.11 L97.22,244.56 L96.74,244.01 L96.26,243.46 L95.78,242.90 L95.31,242.34 L94.84,241.78 L94.37,241.22 L93.90,240.65 L93.44,240.08 L92.98,239.51 L92.52,238.94 L92.06,238.36 L91.61,237.78 L91.15,237.21 L90.70,236.62 L90.25,236.04 L89.81,235.45 L89.37,234.87 L88.92,234.28 L88.48,233.69 L88.04,233.10 L87.60,232.51 L87.16,231.91 L86.73,231.32 L86.30,230.72 L85.87,230.12 L85.44,229.52 L85.02,228.91 L84.60,228.31 L84.19,227.70 L83.78,227.09 L83.37,226.48 L82.96,225.86 L82.56,225.25 L82.16,224.63 L81.77,224.01 L81.38,223.39 L80.99,222.77 L80.61,222.14 L80.23,221.52 L79.85,220.89 L79.48,220.26 L79.12,219.62 L78.75,218.99 L78.40,218.35 L78.04,217.72 L77.70,217.08 L77.35,216.44 L77.01,215.79 L76.68,215.15 L76.35,214.50 L76.03,213.85 L75.72,213.20 L75.41,212.54 L75.10,211.89 L74.80,211.23 L74.50,210.57 L74.21,209.91 L73.92,209.25 L73.64,208.59 L73.36,207.92 L73.09,207.25 L72.82,206.58 L72.55,205.91 L72.29,205.24 L72.03,204.57 L71.78,203.89 L71.53,203.21 L71.28,202.53 L71.04,201.85 L70.80,201.17 L70.56,200.49 L70.33,199.80 L70.11,199.11 L69.88,198.43 L69.67,197.74 L69.45,197.04 L69.24,196.35 L69.02,195.66 L68.82,194.96 L68.61,194.27 L68.41,193.57 L68.22,192.87 L68.02,192.17 L67.84,191.47 L67.65,190.76 L67.47,190.06 L67.29,189.35 L67.12,188.65 L66.95,187.94 L66.78,187.23 L66.62,186.52 L66.47,185.81 L66.31,185.09 L66.17,184.38 L66.02,183.67 L65.88,182.95 L65.74,182.23 L65.61,181.52 L65.48,180.80 L65.35,180.08 L65.23,179.36 L65.11,178.64 L64.99,177.92 L64.88,177.20 L64.77,176.48 L64.66,175.75 L64.56,175.03 L64.46,174.31 L64.37,173.58 L64.28,172.86 L64.19,172.13 L64.11,171.41 L64.03,170.68 L63.95,169.95 L63.88,169.23 L63.81,168.50 L63.75,167.77 L63.69,167.04 L63.63,166.32 L63.58,165.59 L63.53,164.86 L63.49,164.13 L63.45,163.40 L63.41,162.67 L63.38,161.94 L63.35,161.21 L63.33,160.48 L63.30,159.75 L63.29,159.02 L63.27,158.29 L63.26,157.57 L63.26,156.84 L63.26,156.11 L63.26,155.38 L63.27,154.65 L63.28,153.92 L63.29,153.19 L63.31,152.46 L63.33,151.74 L63.35,151.01 L63.38,150.28 L63.41,149.55 L63.44,148.83 L63.48,148.10 L63.52,147.37 L63.57,146.65 L63.62,145.92 L63.67,145.20 L63.73,144.47 L63.79,143.75 L63.86,143.02 L63.93,142.30 L64.00,141.58 L64.08,140.85 L64.16,140.13 L64.24,139.41 L64.33,138.69 L64.42,137.97 L64.51,137.25 L64.61,136.53 L64.72,135.81 L64.83,135.09 L64.94,134.38 L65.05,133.66 L65.17,132.94 L65.29,132.23 L65.42,131.51 L65.55,130.80 L65.69,130.09 L65.83,129.38 L65.98,128.67 L66.13,127.96 L66.28,127.25 L66.44,126.54 L66.60,125.83 L66.77,125.13 L66.93,124.42 L67.11,123.72 L67.29,123.02 L67.47,122.32 L67.65,121.61 L67.84,120.91 L68.03,120.22 L68.23,119.52 L68.43,118.82 L68.64,118.13 L68.84,117.43 L69.06,116.74 L69.27,116.05 L69.49,115.36 L69.72,114.67 L69.95,113.99 L70.18,113.30 L70.41,112.61 L70.65,111.93 L70.90,111.25 L71.15,110.57 L71.40,109.89 L71.65,109.21 L71.91,108.54 L72.17,107.86 L72.44,107.19 L72.71,106.52 L72.99,105.85 L73.27,105.18 L73.55,104.51 L73.83,103.85 L74.13,103.18 L74.42,102.52 L74.72,101.86 L75.02,101.20 L75.32,100.54 L75.63,99.89 L75.95,99.24 L76.26,98.58 L76.59,97.93 L76.91,97.29 L77.24,96.64 L77.57,95.99 L77.91,95.35 L78.25,94.71 L78.59,94.07 L78.94,93.44 L79.29,92.80 L79.65,92.17 L80.01,91.54 L80.37,90.91 L80.74,90.28 L81.11,89.66 L81.48,89.03 L81.86,88.42 L82.25,87.80 L82.64,87.19 L83.03,86.57 L83.43,85.96 L83.83,85.36 L84.23,84.75 L84.64,84.15 L85.06,83.55 L85.47,82.95 L85.89,82.35 L86.31,81.76 L86.74,81.17 L87.17,80.58 L87.60,79.99 L88.04,79.40 L88.47,78.81 L88.92,78.23 L89.36,77.65 L89.81,77.07 L90.26,76.49 L90.71,75.91 L91.17,75.33 L91.63,74.76 L92.09,74.18 L92.55,73.61 L93.01,73.04 L93.48,72.47 L93.95,71.90 L94.42,71.34 L94.89,70.77 L95.36,70.21 L95.84,69.65 L96.31,69.08 L96.79,68.52 L97.26,67.96 L97.73,67.40 L98.21,66.84 L98.68,66.28 L99.15,65.73 L99.63,65.18 L100.10,64.63 L100.57,64.08 L101.05,63.55 L101.53,63.01 L102.01,62.48 L102.49,61.96 L102.98,61.44 L103.47,60.93 L103.97,60.43 L104.47,59.93 L104.98,59.45 L105.50,58.96 L106.02,58.49 L106.55,58.02 L107.08,57.55 L107.63,57.09 L108.18,56.63 L108.73,56.18 L109.30,55.73 L109.87,55.28 L110.44,54.84 L111.02,54.39 L111.60,53.95 L112.18,53.51 L112.77,53.08 L113.36,52.64 L113.95,52.20 L114.55,51.76 L115.14,51.32 L115.74,50.88 L116.33,50.44 L116.93,50.01 L117.52,49.57 L118.12,49.13 L118.71,48.69 L119.30,48.26 L119.90,47.82 L120.49,47.39 L121.09,46.95 L121.68,46.52 L122.27,46.09 L122.87,45.66 L123.47,45.23 L124.06,44.80 L124.65,44.37 L125.25,43.94 L125.84,43.51 L126.44,43.09 L127.03,42.66 L127.63,42.24 L128.22,41.82 L128.82,41.40 L129.42,40.99 L130.02,40.57 L130.62,40.16 L131.22,39.75 L131.82,39.35 L132.43,38.94 L133.03,38.54 L133.64,38.14 L134.24,37.74 L134.85,37.35 L135.46,36.95 L136.06,36.56 L136.68,36.18 L137.29,35.79 L137.90,35.41 L138.52,35.04 L139.13,34.66 L139.75,34.29 L140.37,33.93 L141.00,33.57 L141.62,33.21 L142.25,32.85 L142.88,32.50 L143.51,32.16 L144.14,31.82 L144.78,31.48 L145.42,31.14 L146.06,30.82 L146.70,30.49 L147.34,30.18 L147.99,29.86 L148.64,29.55 L149.30,29.25 L149.95,28.95 L150.61,28.66 L151.27,28.37 L151.94,28.09 L152.60,27.81 L153.27,27.54 L153.95,27.27 L154.62,27.01 L155.30,26.76 L155.98,26.51 L156.67,26.26 L157.35,26.01 L158.04,25.78 L158.73,25.55 L159.42,25.33 L160.12,25.11 L160.82,24.91 L161.52,24.71 L162.22,24.53 L162.92,24.35 L163.63,24.18 L164.33,24.02 L165.04,23.88 L165.75,23.75 L166.47,23.63 L167.18,23.53 L167.89,23.43 L168.61,23.35 L169.32,23.28 L170.04,23.23 L170.76,23.19 L171.47,23.17 L172.19,23.16 L172.91,23.17 L173.62,23.19 L174.34,23.23 L175.04,23.29 L175.74,23.37 L176.43,23.47 L177.12,23.58 L177.79,23.72 L178.46,23.88 L179.11,24.07 L179.74,24.28 L180.36,24.51 L180.97,24.77 L181.56,25.06 L182.13,25.37 L182.68,25.70 L183.22,26.07 L183.73,26.47 L184.24,26.90 L184.72,27.36 L185.19,27.85 L185.65,28.36 L186.10,28.89 L186.52,29.45 L186.94,30.03 L187.33,30.62 L187.72,31.24 L188.09,31.86 L188.45,32.50 L188.79,33.15 L189.13,33.81 L189.45,34.47 L189.75,35.14 L190.05,35.81 L190.33,36.48 L190.60,37.16 L190.86,37.84 L191.11,38.52 L191.35,39.20 L191.57,39.89 L191.79,40.58 L192.00,41.27 L192.20,41.96 L192.38,42.65 L192.56,43.35 L192.72,44.05 L192.87,44.75 L193.02,45.45 L193.16,46.16 L193.29,46.86 L193.41,47.57 L193.52,48.27 L193.63,48.98 L193.73,49.69 L193.82,50.40 L193.92,51.11 L194.01,51.82 L194.10,52.53 L194.17,53.24 L194.25,53.96 L194.31,54.67 L194.37,55.38 L194.43,56.10 L194.48,56.81 L194.52,57.53 L194.56,58.25 L194.59,58.96 L194.62,59.68 L194.64,60.40 L194.66,61.12 L194.67,61.84 L194.69,62.56 L194.69,63.28 L194.70,64.00 L194.70,64.72 L194.69,65.45 L194.68,66.17 L194.67,66.89 L194.65,67.62 L194.63,68.34 L194.60,69.07 L194.58,69.79 L194.54,70.52 L194.51,71.25 L194.47,71.98 L194.43,72.70 L194.39,73.43 L194.35,74.16 L194.30,74.89 L194.25,75.62 L194.19,76.35 L194.13,77.08 L194.07,77.81 L194.01,78.54 L193.95,79.27 L193.88,80.00 L193.81,80.74 L193.75,81.47 L193.68,82.20 L193.61,82.93 L193.54,83.66 L193.47,84.40 L193.39,85.13 L193.31,85.86 L193.23,86.59 L193.15,87.33 L193.07,88.06 L192.99,88.79 L192.90,89.52 L192.82,90.26 L192.73,90.99 L192.65,91.72 L192.56,92.45 L192.47,93.18 L192.39,93.92 L192.30,94.65 L192.22,95.38 L192.14,96.11 L192.05,96.84 L191.97,97.57 L191.89,98.30 L191.81,99.03 L191.74,99.76 L191.66,100.49 L191.58,101.22 L191.51,101.95 L191.43,102.68 L191.36,103.40 L191.29,104.13 L191.22,104.86 L191.17,105.59 L191.16,106.32 L191.15,107.05 L191.14,107.78 L191.13,108.50Z" fill="#35aa35"/>
<path d="M195.6,112.2 L202.6,115.6" stroke="#35aa35" stroke-width="2.1" stroke-linecap="round"/>
<defs>
<linearGradient id="armg" gradientUnits="userSpaceOnUse" x1="268" y1="238" x2="352" y2="196">
<stop offset="0" stop-color="#949494"/><stop offset="0.62" stop-color="#c9c9c9"/><stop offset="1" stop-color="#b0b0b0"/></linearGradient>
<linearGradient id="backg" gradientUnits="userSpaceOnUse" x1="240" y1="140" x2="300" y2="125">
<stop offset="0" stop-color="#a4a4a4"/><stop offset="0.6" stop-color="#c4c4c4"/><stop offset="1" stop-color="#c9c9c9"/></linearGradient>
<linearGradient id="thumbg" gradientUnits="userSpaceOnUse" x1="232" y1="142" x2="272" y2="190">
<stop offset="0" stop-color="#8e8e8e"/><stop offset="0.5" stop-color="#a0a0a0"/><stop offset="1" stop-color="#a8a8a8" stop-opacity="0"/></linearGradient>
<linearGradient id="palmg" gradientUnits="userSpaceOnUse" x1="274" y1="157" x2="266" y2="171">
<stop offset="0" stop-color="#363636"/><stop offset="1" stop-color="#6a6a6a"/></linearGradient>
<linearGradient id="fing" gradientUnits="userSpaceOnUse" x1="225" y1="160" x2="256" y2="185">
<stop offset="0" stop-color="#7c7c7c"/><stop offset="1" stop-color="#9a9a9a"/></linearGradient>
</defs>
<path d="M236.0,155.2 L233.3,155.8 L229.0,160.0 L224.2,165.0 L226.5,168.3 L232.3,169.6 L238.1,168.3 L242.0,163.0Z" fill="url(#fing)" stroke="#1e1e1e" stroke-width="0.9" stroke-linejoin="round"/>
<path d="M238.1,168.3 L235.0,171.0 L232.7,174.0 L234.2,176.9 L237.0,178.8 L240.0,179.8 L243.5,178.6 L246.7,176.9 L250.6,174.0 L247.0,168.0Z" fill="url(#fing)" stroke="#1e1e1e" stroke-width="0.9" stroke-linejoin="round"/>
<path d="M250.6,174.0 L249.2,177.5 L247.7,180.8 L245.4,185.6 L248.0,187.3 L250.6,187.9 L253.5,187.3 L256.3,186.2 L255.0,176.0Z" fill="url(#fing)" stroke="#1e1e1e" stroke-width="0.9" stroke-linejoin="round"/>
<path d="M236.2,125.7 L250.2,126.2 L259.2,125.7 L269.3,122.9 L280.5,120.0 L282.5,120.0 L291.6,127.3 L299.0,137.6 L311.9,153.7 L315.1,168.1 L318.3,185.7 L320.8,199.0 L323.1,205.0 L325.5,215.0 L331.0,223.0 L340.0,235.0 L352.0,251.5 L364.2,268.3 L359.60,274.20 C358.00,275.17 353.52,278.23 350.00,280.00 C346.48,281.77 342.90,283.65 338.50,284.80 C334.10,285.95 326.08,286.55 323.60,286.90 C321.12,287.25 324.45,288.05 323.60,286.90 C322.75,285.75 320.27,282.82 318.50,280.00 C316.73,277.18 314.75,273.33 313.00,270.00 C311.25,266.67 309.67,263.42 308.00,260.00 C306.33,256.58 304.33,252.50 303.00,249.50 C301.67,246.50 300.92,244.08 300.00,242.00 C299.08,239.92 298.42,238.50 297.50,237.00 C296.58,235.50 295.75,234.25 294.50,233.00 C293.25,231.75 291.58,230.83 290.00,229.50 C288.42,228.17 286.67,226.62 285.00,225.00 C283.33,223.38 281.42,221.53 280.00,219.80 C278.58,218.07 277.72,216.43 276.50,214.60 C275.28,212.77 274.13,211.20 272.70,208.80 C271.27,206.40 269.52,202.83 267.90,200.20 C266.28,197.57 264.40,195.12 263.00,193.00 C261.60,190.88 260.62,188.87 259.50,187.50 C258.38,186.13 256.83,185.25 256.30,184.80 L249.4,172.0 L245.5,166.6 L240.4,161.5 L236.5,157.0 L232.7,152.5 L230.4,148.7 L230.1,143.5 L232.0,139.7 L235.3,137.8 L237.5,130.0Z" fill="url(#armg)"/>
<path d="M236.2,125.7 L250.2,126.2 L259.2,125.7 L269.3,122.9 L280.5,120.0 L282.5,120.0 L291.6,127.3 L299.0,137.6 L311.9,153.7 L315.1,168.1 L316.0,172.0 L240.0,132.0Z" fill="url(#backg)"/>
<path d="M282.5,120.0 L291.6,127.3 L299.0,137.6 L311.9,153.7 L315.1,168.1 L318.3,185.7 L320.8,199.0 L323.1,205.0 L325.5,215.0 L331.0,223.0 L340.0,235.0 L352.0,251.5 L364.2,268.3" fill="none" stroke="#2a2a2a" stroke-width="0.8" stroke-linejoin="round"/>
<path d="M323.60,286.90 C322.75,285.75 320.27,282.82 318.50,280.00 C316.73,277.18 314.75,273.33 313.00,270.00 C311.25,266.67 309.67,263.42 308.00,260.00 C306.33,256.58 304.33,252.50 303.00,249.50 C301.67,246.50 300.92,244.08 300.00,242.00 C299.08,239.92 298.42,238.50 297.50,237.00 C296.58,235.50 295.75,234.25 294.50,233.00 C293.25,231.75 291.58,230.83 290.00,229.50 C288.42,228.17 286.67,226.62 285.00,225.00 C283.33,223.38 281.42,221.53 280.00,219.80 C278.58,218.07 277.72,216.43 276.50,214.60 C275.28,212.77 274.13,211.20 272.70,208.80 C271.27,206.40 269.52,202.83 267.90,200.20 C266.28,197.57 264.40,195.12 263.00,193.00 C261.60,190.88 260.62,188.87 259.50,187.50 C258.38,186.13 256.83,185.25 256.30,184.80" fill="none" stroke="#333" stroke-width="0.75" stroke-linejoin="round"/>
<path d="M236.2,125.7 L250.2,126.2 L259.2,125.7 L269.3,122.9 L280.5,120 L282.5,120" fill="none" stroke="#1e1e1e" stroke-width="1"/>
<path d="M236.2,125.7 L243,125.8 L250.5,126.3 L252.2,126.9 L250.5,128.6 L246,129.4 L241.5,129 L237.2,127.6Z" fill="#a0a0a0" stroke="#1e1e1e" stroke-width="0.7" stroke-linejoin="round"/>
<path d="M256.2,138.3 L274.6,138 L284.8,154 L256.2,139.6Z" fill="#4e4e4e" stroke="#1e1e1e" stroke-width="0.7"/>
<path d="M201.3,114.4 L205.0,115.6 L209.6,117.1 L219.2,120.1 L228.8,124.4 L238.0,130.1 L322.6,173.3 L322.6,175.7 L331.2,180.3 L327.6,187.5 L236.0,139.8 L231.7,136.0 L224.0,131.6 L215.4,127.6 L209.6,122.4 L206.0,119.2 L202.6,116.4Z" fill="#000"/>
<path d="M250.0,147.1 L286.6,166.1 L286.0,168.0 L282.7,174.1 L277.4,172.8 L272.0,171.5 L268.2,169.3 L263.5,162.0 L259.2,156.2 L254.4,150.7 L250.0,146.0Z" fill="url(#palmg)"/>
<path d="M268.2,169.3 L272,171.5 L277.4,172.8 L282.7,174.1 L286,168" fill="none" stroke="#1e1e1e" stroke-width="0.8" stroke-linejoin="round"/>
<path d="M230.1,143.5 L231.0,140.5 L233.0,138.3 L236.0,137.0 L239.0,136.8 L241.5,137.5 L244.8,140.6 L249.6,145.4 L254.4,150.7 L259.2,156.2 L263.5,162.0 L268.2,169.3 L272.0,171.5 L277.4,172.8 L282.7,174.1 L285.0,185.0 L275.0,195.0 L262.0,192.0 L256.3,184.8 L249.4,172.0 L245.5,166.6 L240.4,161.5 L236.5,157.0 L232.7,152.5 L230.4,148.7Z" fill="url(#thumbg)"/>
<path d="M243.5,139.3 L241.5,137.5 L239,136.8 L236,137 L233,138.3 L231,140.5 L230.1,143.5 L230.4,148.7 L232.7,152.5 L236.5,157 L240.4,161.5 L245.5,166.6 L249.4,172 L256.3,184.8" fill="none" stroke="#1e1e1e" stroke-width="0.95" stroke-linejoin="round"/>
<path d="M233,148 Q236.5,151.6 241,151.9 Q244.6,151.2 245.5,147.4" fill="none" stroke="#1e1e1e" stroke-width="0.8"/>
<text transform="translate(388.3,10.8) scale(0.82,1)" font-size="15" fill="#1a1a1a">B</text>
<g stroke="#111" stroke-width="1" stroke-dasharray="1 2.85" fill="none">
<line x1="428.4" y1="146.3" x2="674.9" y2="146.3"/>
<line x1="551.6" y1="22.9" x2="551.6" y2="269.7"/>
<line x1="428.4" y1="269.7" x2="674.9" y2="22.9"/>
<line x1="428.4" y1="22.9" x2="674.9" y2="269.7"/>
</g>
<g stroke="#111" stroke-width="1.15" stroke-dasharray="8.5 3 1.3 3" fill="none">
<circle cx="551.6" cy="146.3" r="21.16"/>
<circle cx="551.6" cy="146.3" r="42.32"/>
<circle cx="551.6" cy="146.3" r="70.54"/>
<circle cx="551.6" cy="146.3" r="105.81"/>
</g>
<circle cx="649.96" cy="106.21" r="12.7" fill="none" stroke="#1a9e98" stroke-width="2.05"/>
<circle cx="592.79" cy="48.74" r="12.7" fill="none" stroke="#1a9e98" stroke-width="2.05"/>
<circle cx="511.51" cy="48.24" r="12.7" fill="none" stroke="#7e2f8e" stroke-width="2.05"/>
<circle cx="454.04" cy="105.51" r="12.7" fill="none" stroke="#7e2f8e" stroke-width="2.05"/>
<circle cx="453.84" cy="186.79" r="12.7" fill="none" stroke="#7e2f8e" stroke-width="2.05"/>
<circle cx="510.71" cy="244.26" r="12.7" fill="none" stroke="#7e2f8e" stroke-width="2.05"/>
<circle cx="591.69" cy="244.56" r="12.7" fill="none" stroke="#1a9e98" stroke-width="2.05"/>
<circle cx="649.36" cy="186.79" r="12.7" fill="none" stroke="#1a9e98" stroke-width="2.05"/>
<circle cx="601.48" cy="96.42" r="12.7" fill="none" stroke="#1a9e98" stroke-width="2.05"/>
<circle cx="501.72" cy="96.42" r="12.7" fill="none" stroke="#7e2f8e" stroke-width="2.05"/>
<circle cx="501.72" cy="196.18" r="12.7" fill="none" stroke="#7e2f8e" stroke-width="2.05"/>
<circle cx="601.48" cy="196.18" r="12.7" fill="none" stroke="#1a9e98" stroke-width="2.05"/>
<circle cx="590.70" cy="130.10" r="12.7" fill="none" stroke="#1a9e98" stroke-width="2.05"/>
<circle cx="567.80" cy="107.20" r="12.7" fill="none" stroke="#1a9e98" stroke-width="2.05"/>
<circle cx="535.40" cy="107.20" r="12.7" fill="none" stroke="#7e2f8e" stroke-width="2.05"/>
<circle cx="512.00" cy="129.80" r="12.7" fill="none" stroke="#7e2f8e" stroke-width="2.05"/>
<circle cx="512.00" cy="162.30" r="12.7" fill="none" stroke="#7e2f8e" stroke-width="2.05"/>
<circle cx="535.40" cy="185.40" r="12.7" fill="none" stroke="#7e2f8e" stroke-width="2.05"/>
<circle cx="567.80" cy="185.40" r="12.7" fill="none" stroke="#1a9e98" stroke-width="2.05"/>
<circle cx="590.70" cy="162.50" r="12.7" fill="none" stroke="#1a9e98" stroke-width="2.05"/>
<circle cx="566.56" cy="131.34" r="12.7" fill="none" stroke="#1a9e98" stroke-width="2.05"/>
<circle cx="536.64" cy="131.34" r="12.7" fill="none" stroke="#7e2f8e" stroke-width="2.05"/>
<circle cx="536.64" cy="161.26" r="12.7" fill="none" stroke="#7e2f8e" stroke-width="2.05"/>
<circle cx="566.56" cy="161.26" r="12.7" fill="none" stroke="#1a9e98" stroke-width="2.05"/>
<rect x="648.26" y="104.51" width="3.40" height="3.40" fill="#000"/>
<rect x="591.19" y="47.14" width="3.20" height="3.20" fill="#000"/>
<rect x="510.71" y="47.44" width="1.60" height="1.60" fill="#000"/>
<rect x="453.24" y="104.71" width="1.60" height="1.60" fill="#000"/>
<rect x="453.04" y="185.99" width="1.60" height="1.60" fill="#000"/>
<rect x="509.91" y="243.46" width="1.60" height="1.60" fill="#000"/>
<rect x="589.99" y="242.86" width="3.40" height="3.40" fill="#000"/>
<rect x="647.76" y="185.19" width="3.20" height="3.20" fill="#000"/>
<rect x="598.73" y="93.67" width="5.50" height="5.50" fill="#000"/>
<rect x="501.22" y="95.92" width="1.00" height="1.00" fill="#000"/>
<rect x="501.22" y="195.68" width="1.00" height="1.00" fill="#000"/>
<rect x="598.98" y="193.68" width="5.00" height="5.00" fill="#000"/>
<rect x="588.20" y="127.60" width="5.00" height="5.00" fill="#000"/>
<rect x="565.10" y="104.50" width="5.40" height="5.40" fill="#000"/>
<rect x="532.70" y="104.50" width="5.40" height="5.40" fill="#000"/>
<rect x="510.10" y="127.90" width="3.80" height="3.80" fill="#000"/>
<rect x="510.25" y="160.55" width="3.50" height="3.50" fill="#000"/>
<rect x="533.40" y="183.40" width="4.00" height="4.00" fill="#000"/>
<rect x="564.90" y="182.50" width="5.80" height="5.80" fill="#000"/>
<rect x="588.30" y="160.10" width="4.80" height="4.80" fill="#000"/>
<rect x="562.96" y="127.74" width="7.20" height="7.20" fill="#000"/>
<rect x="533.94" y="128.64" width="5.40" height="5.40" fill="#000"/>
<rect x="534.14" y="158.76" width="5.00" height="5.00" fill="#000"/>
<rect x="563.26" y="157.96" width="6.60" height="6.60" fill="#000"/>
<rect x="547.10" y="141.80" width="9" height="9" fill="#000"/>
<rect x="433" y="27.7" width="11.4" height="11.2" fill="#000"/>
<rect x="434" y="46.3" width="9.4" height="9.4" fill="#000"/>
<rect x="435.9" y="62.3" width="5.3" height="5.4" fill="#000"/>
<g font-size="13" fill="#111">
<text x="445.3" y="38.8">30%</text>
<text x="445.6" y="56.6">15%</text>
<text x="445.3" y="70.8">5%</text>
</g>
<rect x="428.4" y="22.9" width="246.5" height="246.8" fill="none" stroke="#262626" stroke-width="1.1"/>
<path d="M445.8,269.7v-2.6M445.8,22.9v2.6M428.4,252.1h2.6M674.9,252.1h-2.6M481.1,269.7v-2.6M481.1,22.9v2.6M428.4,216.8h2.6M674.9,216.8h-2.6M516.3,269.7v-2.6M516.3,22.9v2.6M428.4,181.6h2.6M674.9,181.6h-2.6M551.6,269.7v-2.6M551.6,22.9v2.6M428.4,146.3h2.6M674.9,146.3h-2.6M586.9,269.7v-2.6M586.9,22.9v2.6M428.4,111.0h2.6M674.9,111.0h-2.6M622.1,269.7v-2.6M622.1,22.9v2.6M428.4,75.8h2.6M674.9,75.8h-2.6M657.4,269.7v-2.6M657.4,22.9v2.6M428.4,40.5h2.6M674.9,40.5h-2.6M598.5,22.9v2.6M634.0,22.9v2.6M669.2,22.9v2.6" stroke="#262626" stroke-width="1"/>
<g font-size="13" fill="#262626">
<text x="445.8" y="288.9" text-anchor="middle">-30</text>
<text x="422.3" y="257.7" text-anchor="end">-30</text>
<text x="481.1" y="288.9" text-anchor="middle">-20</text>
<text x="422.3" y="222.4" text-anchor="end">-20</text>
<text x="516.3" y="288.9" text-anchor="middle">-10</text>
<text x="422.3" y="187.2" text-anchor="end">-10</text>
<text x="551.6" y="288.9" text-anchor="middle">0</text>
<text x="422.3" y="151.9" text-anchor="end">0</text>
<text x="586.9" y="288.9" text-anchor="middle">10</text>
<text x="422.3" y="116.6" text-anchor="end">10</text>
<text x="622.1" y="288.9" text-anchor="middle">20</text>
<text x="422.3" y="81.4" text-anchor="end">20</text>
<text x="657.4" y="288.9" text-anchor="middle">30</text>
<text x="422.3" y="46.1" text-anchor="end">30</text>
</g>
<text x="555" y="308.3" font-size="14.3" fill="#262626" text-anchor="middle">Degrees (°)</text>
<text transform="translate(396,142.6) rotate(-90)" font-size="14.3" fill="#262626" text-anchor="middle">Degrees (°)</text>
</svg></body></html>
